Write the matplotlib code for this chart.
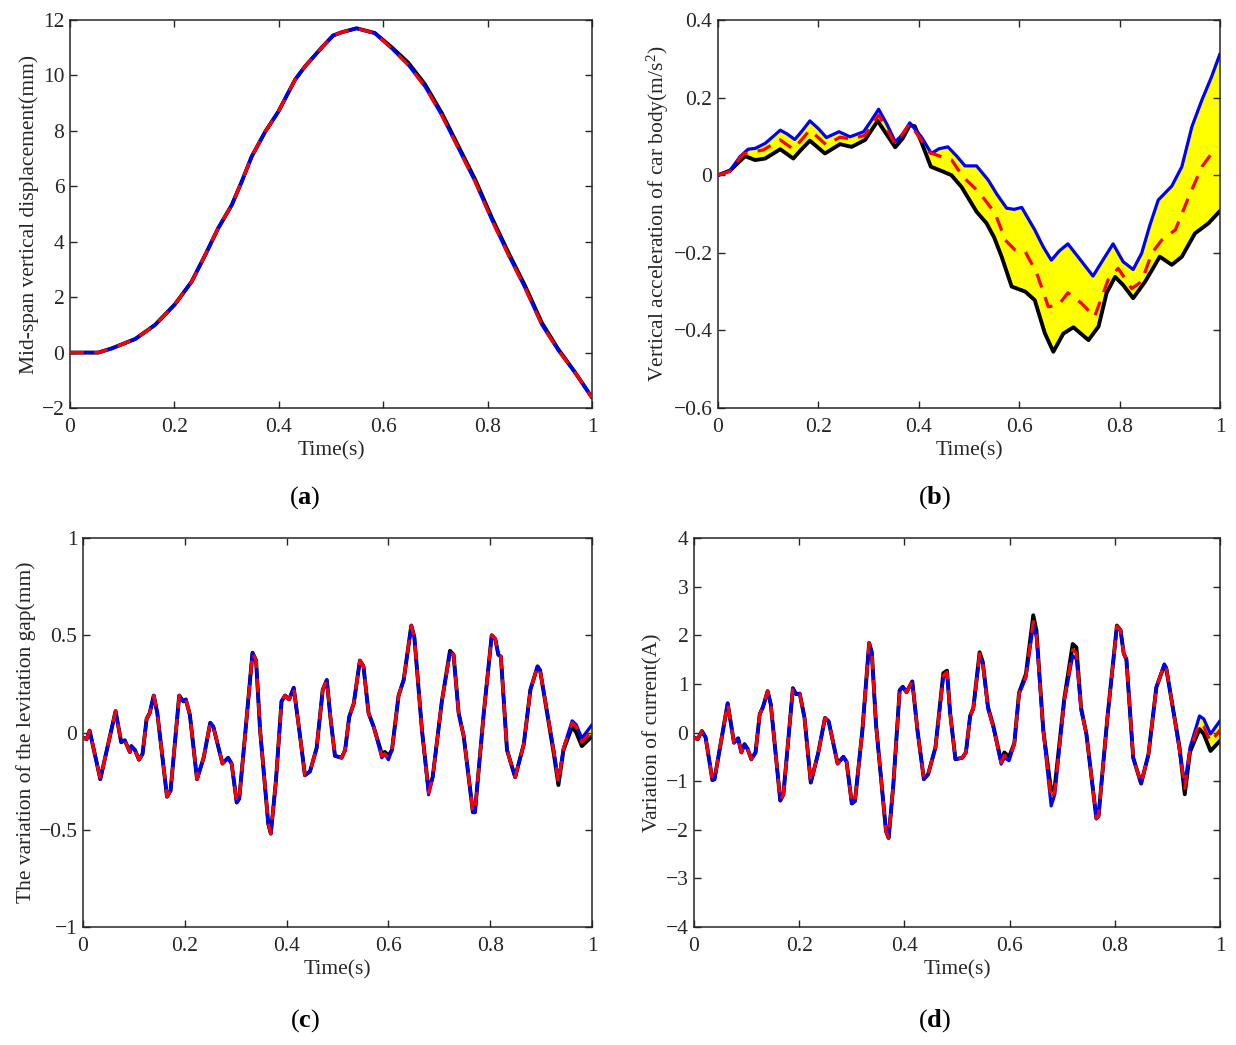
import numpy as np
import matplotlib
matplotlib.use("Agg")
import matplotlib.pyplot as plt

plt.rcParams['font.family'] = ['Liberation Serif', 'DejaVu Serif']
plt.rcParams['mathtext.fontset'] = 'custom'
plt.rcParams['mathtext.rm'] = 'Liberation Serif'
plt.rcParams['mathtext.bf'] = 'Liberation Serif:bold'
plt.rcParams['mathtext.it'] = 'Liberation Serif:italic'

# (a) mid-span vertical displacement
t_a = [0, 0.054, 0.080, 0.125, 0.163, 0.201, 0.233, 0.259, 0.284, 0.310, 0.329, 0.348,
       0.374, 0.399, 0.431, 0.450, 0.482, 0.504, 0.521, 0.549, 0.584, 0.616, 0.648, 0.680,
       0.712, 0.744, 0.776, 0.808, 0.840, 0.872, 0.904, 0.935, 0.967, 1.0]
disp_blue = [0, 0.0, 0.15, 0.49, 1.0, 1.74, 2.56, 3.52, 4.49, 5.33, 6.17, 7.07,
             7.97, 8.69, 9.84, 10.32, 11.0, 11.44, 11.56, 11.70, 11.52, 10.98, 10.38, 9.60,
             8.57, 7.37, 6.17, 4.79, 3.52, 2.32, 1.0, 0.09, -0.71, -1.62]
disp_black = [0, 0.0, 0.15, 0.49, 1.0, 1.74, 2.56, 3.52, 4.49, 5.33, 6.17, 7.07,
              7.97, 8.69, 9.84, 10.32, 11.0, 11.44, 11.56, 11.70, 11.53, 11.02, 10.46, 9.68,
              8.65, 7.45, 6.25, 4.87, 3.60, 2.40, 1.07, 0.13, -0.70, -1.62]
disp_red = disp_blue

# (b) vertical acceleration of car body
t_b_blue = [0, 0.024, 0.044, 0.060, 0.074, 0.094, 0.110, 0.124, 0.138, 0.153, 0.168, 0.183,
            0.200, 0.216, 0.241, 0.263, 0.290, 0.305, 0.320, 0.337, 0.353, 0.368, 0.382, 0.405,
            0.425, 0.440, 0.458, 0.475, 0.492, 0.515, 0.538, 0.556, 0.575, 0.590, 0.605, 0.631,
            0.648, 0.664, 0.680, 0.697, 0.717, 0.747, 0.771, 0.787, 0.807, 0.827, 0.844, 0.860,
            0.877, 0.904, 0.924, 0.944, 0.964, 0.983, 1.0]
acc_blue = [0, 0.012, 0.048, 0.067, 0.069, 0.082, 0.100, 0.116, 0.106, 0.092, 0.115, 0.140,
            0.120, 0.097, 0.112, 0.099, 0.112, 0.140, 0.170, 0.130, 0.086, 0.105, 0.135, 0.099,
            0.056, 0.068, 0.073, 0.050, 0.024, 0.024, -0.012, -0.050, -0.085, -0.088, -0.083, -0.141,
            -0.185, -0.219, -0.195, -0.177, -0.210, -0.260, -0.210, -0.177, -0.223, -0.243, -0.201, -0.130,
            -0.064, -0.028, 0.022, 0.125, 0.194, 0.253, 0.313]
t_b_black = [0, 0.024, 0.054, 0.074, 0.094, 0.124, 0.150, 0.165, 0.183, 0.213, 0.243, 0.266,
             0.293, 0.318, 0.336, 0.353, 0.368, 0.382, 0.392, 0.405, 0.424, 0.449, 0.465, 0.485,
             0.515, 0.535, 0.550, 0.565, 0.585, 0.612, 0.631, 0.651, 0.668, 0.688, 0.708, 0.738,
             0.758, 0.774, 0.791, 0.807, 0.827, 0.851, 0.880, 0.904, 0.924, 0.950, 0.977, 1.0]
acc_black = [0, 0.012, 0.049, 0.039, 0.043, 0.067, 0.043, 0.065, 0.089, 0.056, 0.080, 0.073,
             0.091, 0.140, 0.105, 0.072, 0.095, 0.129, 0.126, 0.086, 0.022, 0.009, 0.0, -0.030,
             -0.094, -0.124, -0.160, -0.210, -0.287, -0.300, -0.322, -0.407, -0.455, -0.408, -0.392, -0.425,
             -0.390, -0.304, -0.262, -0.283, -0.317, -0.274, -0.210, -0.231, -0.210, -0.150, -0.124, -0.092]
t_b_red = [0, 0.024, 0.050, 0.070, 0.090, 0.124, 0.150, 0.183, 0.216, 0.243, 0.266, 0.293,
           0.320, 0.353, 0.382, 0.405, 0.422, 0.449, 0.465, 0.488, 0.512, 0.532, 0.552, 0.572,
           0.592, 0.612, 0.635, 0.658, 0.678, 0.697, 0.724, 0.750, 0.777, 0.797, 0.824, 0.844,
           0.864, 0.884, 0.911, 0.938, 0.964, 0.993]
acc_red = [0, 0.010, 0.055, 0.060, 0.065, 0.091, 0.067, 0.116, 0.078, 0.098, 0.093, 0.103,
           0.155, 0.081, 0.133, 0.090, 0.058, 0.046, 0.040, -0.004, -0.034, -0.064, -0.098, -0.167,
           -0.193, -0.197, -0.253, -0.339, -0.335, -0.303, -0.330, -0.365, -0.270, -0.240, -0.292, -0.274,
           -0.201, -0.167, -0.141, -0.055, 0.022, 0.073]

# (c) variation of levitation gap
t_c = [0, 0.007, 0.013, 0.034, 0.064, 0.075, 0.082, 0.092, 0.095, 0.102, 0.110, 0.117,
       0.125, 0.131, 0.139, 0.146, 0.165, 0.172, 0.189, 0.197, 0.202, 0.210, 0.224, 0.237,
       0.250, 0.256, 0.274, 0.285, 0.292, 0.302, 0.307, 0.321, 0.333, 0.340, 0.348, 0.364,
       0.369, 0.379, 0.390, 0.397, 0.405, 0.414, 0.426, 0.436, 0.446, 0.459, 0.471, 0.479,
       0.486, 0.495, 0.508, 0.515, 0.523, 0.532, 0.544, 0.551, 0.561, 0.571, 0.587, 0.593,
       0.600, 0.607, 0.620, 0.630, 0.645, 0.651, 0.666, 0.679, 0.687, 0.705, 0.721, 0.728,
       0.738, 0.748, 0.766, 0.770, 0.787, 0.803, 0.810, 0.816, 0.821, 0.833, 0.849, 0.866,
       0.879, 0.893, 0.898, 0.925, 0.934, 0.944, 0.961, 0.969, 0.980, 1.0]
gap_blue = [-0.026, -0.035, 0.01, -0.24, 0.11, -0.05, -0.04, -0.10, -0.07, -0.09, -0.14, -0.11,
            0.07, 0.10, 0.19, 0.10, -0.33, -0.30, 0.19, 0.16, 0.17, 0.09, -0.24, -0.13,
            0.05, 0.03, -0.16, -0.13, -0.16, -0.36, -0.34, 0.06, 0.41, 0.37, 0.01, -0.47,
            -0.52, -0.25, 0.16, 0.19, 0.17, 0.23, -0.01, -0.22, -0.20, -0.08, 0.22, 0.27,
            0.08, -0.12, -0.13, -0.09, 0.08, 0.15, 0.37, 0.34, 0.10, 0.03, -0.13, -0.11,
            -0.14, -0.09, 0.19, 0.27, 0.55, 0.49, 0.01, -0.32, -0.23, 0.16, 0.41, 0.40,
            0.10, -0.02, -0.41, -0.41, 0.09, 0.50, 0.48, 0.40, 0.39, -0.09, -0.23, -0.06,
            0.22, 0.34, 0.32, -0.09, -0.25, -0.08, 0.06, 0.04, -0.03, 0.04]
gap_black = [-0.026, -0.035, 0.01, -0.24, 0.11, -0.05, -0.04, -0.10, -0.07, -0.09, -0.14, -0.11,
             0.07, 0.10, 0.19, 0.10, -0.33, -0.30, 0.19, 0.16, 0.17, 0.09, -0.24, -0.13,
             0.05, 0.03, -0.16, -0.13, -0.16, -0.36, -0.34, 0.06, 0.41, 0.37, 0.01, -0.47,
             -0.52, -0.25, 0.16, 0.19, 0.17, 0.23, -0.01, -0.22, -0.20, -0.08, 0.22, 0.27,
             0.08, -0.12, -0.13, -0.09, 0.08, 0.15, 0.37, 0.34, 0.10, 0.03, -0.11, -0.10,
             -0.12, -0.09, 0.19, 0.27, 0.55, 0.49, 0.01, -0.30, -0.23, 0.16, 0.42, 0.40,
             0.10, -0.02, -0.41, -0.41, 0.09, 0.50, 0.48, 0.40, 0.39, -0.09, -0.23, -0.06,
             0.22, 0.34, 0.32, -0.11, -0.27, -0.09, 0.03, 0.00, -0.07, -0.02]
gap_red = [-0.026, -0.035, 0.01, -0.24, 0.11, -0.05, -0.04, -0.10, -0.07, -0.09, -0.14, -0.11,
           0.07, 0.10, 0.19, 0.10, -0.33, -0.30, 0.19, 0.16, 0.17, 0.09, -0.24, -0.13,
           0.05, 0.03, -0.16, -0.13, -0.16, -0.36, -0.34, 0.06, 0.41, 0.37, 0.01, -0.47,
           -0.52, -0.25, 0.16, 0.19, 0.17, 0.23, -0.01, -0.22, -0.20, -0.08, 0.22, 0.27,
           0.08, -0.12, -0.13, -0.09, 0.08, 0.15, 0.37, 0.34, 0.10, 0.03, -0.12, -0.11,
           -0.13, -0.09, 0.19, 0.27, 0.55, 0.49, 0.01, -0.31, -0.23, 0.16, 0.41, 0.40,
           0.10, -0.02, -0.41, -0.41, 0.09, 0.50, 0.48, 0.40, 0.39, -0.09, -0.23, -0.06,
           0.22, 0.34, 0.32, -0.10, -0.26, -0.08, 0.05, 0.03, -0.05, 0.01]

# (d) variation of current
t_d = [0, 0.007, 0.015, 0.022, 0.035, 0.039, 0.064, 0.076, 0.084, 0.090, 0.096, 0.102,
       0.109, 0.117, 0.125, 0.131, 0.140, 0.146, 0.164, 0.170, 0.188, 0.194, 0.201, 0.210,
       0.222, 0.236, 0.249, 0.256, 0.273, 0.284, 0.290, 0.300, 0.306, 0.320, 0.333, 0.338,
       0.346, 0.365, 0.370, 0.379, 0.391, 0.397, 0.404, 0.415, 0.425, 0.437, 0.445, 0.459,
       0.474, 0.481, 0.487, 0.497, 0.510, 0.517, 0.525, 0.531, 0.543, 0.549, 0.559, 0.569,
       0.584, 0.590, 0.599, 0.609, 0.618, 0.631, 0.645, 0.651, 0.664, 0.679, 0.686, 0.704,
       0.720, 0.727, 0.736, 0.746, 0.765, 0.769, 0.786, 0.804, 0.811, 0.817, 0.822, 0.835,
       0.850, 0.864, 0.879, 0.894, 0.898, 0.923, 0.933, 0.943, 0.961, 0.969, 0.982, 1.0]
cur_blue = [-0.10, -0.14, 0.03, -0.10, -0.98, -0.96, 0.60, -0.21, -0.12, -0.41, -0.24, -0.34,
            -0.55, -0.41, 0.38, 0.52, 0.85, 0.58, -1.40, -1.27, 0.91, 0.79, 0.80, 0.31,
            -1.03, -0.43, 0.30, 0.23, -0.64, -0.50, -0.60, -1.46, -1.41, 0.03, 1.84, 1.65,
            0.17, -2.03, -2.17, -1.07, 0.87, 0.94, 0.83, 1.05, 0.03, -0.96, -0.86, -0.31,
            1.13, 1.20, 0.38, -0.55, -0.52, -0.41, 0.34, 0.48, 1.58, 1.41, 0.48, 0.10,
            -0.65, -0.52, -0.58, -0.24, 0.79, 1.13, 2.20, 1.96, 0.03, -1.51, -1.27, 0.65,
            1.58, 1.51, 0.45, -0.03, -1.77, -1.72, 0.31, 2.17, 2.10, 1.62, 1.51, -0.52,
            -1.05, -0.45, 0.93, 1.41, 1.34, -0.38, -1.07, -0.31, 0.34, 0.28, -0.03, 0.24]
cur_black = [-0.10, -0.14, 0.03, -0.10, -0.98, -0.96, 0.60, -0.21, -0.12, -0.41, -0.24, -0.34,
             -0.55, -0.41, 0.38, 0.52, 0.85, 0.58, -1.40, -1.27, 0.91, 0.79, 0.80, 0.31,
             -1.03, -0.43, 0.30, 0.23, -0.64, -0.50, -0.60, -1.46, -1.41, 0.03, 1.84, 1.65,
             0.17, -2.03, -2.17, -1.07, 0.87, 0.94, 0.83, 1.05, 0.03, -0.96, -0.86, -0.31,
             1.22, 1.27, 0.40, -0.55, -0.52, -0.41, 0.34, 0.50, 1.65, 1.45, 0.52, 0.14,
             -0.60, -0.41, -0.50, -0.22, 0.82, 1.20, 2.41, 2.10, 0.05, -1.20, -1.10, 0.70,
             1.82, 1.75, 0.50, -0.03, -1.77, -1.72, 0.31, 2.20, 2.10, 1.62, 1.51, -0.52,
             -1.05, -0.45, 0.93, 1.38, 1.30, -0.30, -1.27, -0.40, 0.07, -0.03, -0.38, -0.17]
cur_red = [-0.10, -0.14, 0.03, -0.10, -0.98, -0.96, 0.60, -0.21, -0.12, -0.41, -0.24, -0.34,
           -0.55, -0.41, 0.38, 0.52, 0.85, 0.58, -1.40, -1.27, 0.91, 0.79, 0.80, 0.31,
           -1.03, -0.43, 0.30, 0.23, -0.64, -0.50, -0.60, -1.46, -1.41, 0.03, 1.84, 1.65,
           0.17, -2.03, -2.17, -1.07, 0.87, 0.94, 0.83, 1.05, 0.03, -0.96, -0.86, -0.31,
           1.17, 1.24, 0.39, -0.55, -0.52, -0.41, 0.34, 0.49, 1.62, 1.43, 0.50, 0.12,
           -0.62, -0.47, -0.54, -0.23, 0.80, 1.16, 2.28, 2.03, 0.04, -1.38, -1.20, 0.67,
           1.70, 1.63, 0.47, -0.03, -1.77, -1.72, 0.31, 2.19, 2.10, 1.62, 1.51, -0.52,
           -1.05, -0.45, 0.93, 1.40, 1.32, -0.34, -1.15, -0.35, 0.20, 0.12, -0.20, 0.05]

W, H = 12.36, 10.45
fig = plt.figure(figsize=(W, H), dpi=100)

FS = 15.5
DARK = '#262626'


def make_axes(px_left, px_right, px_top, px_bottom):
    return fig.add_axes([px_left / 1236, 1 - px_bottom / 1045,
                         (px_right - px_left) / 1236, (px_bottom - px_top) / 1045])


def style(ax, ylim, yticks, ylabel):
    ax.set_xlim(0, 1)
    ax.set_ylim(*ylim)
    ax.set_xticks([0, 0.2, 0.4, 0.6, 0.8, 1])
    ax.set_xticklabels(['0', '0.2', '0.4', '0.6', '0.8', '1'])
    ax.set_yticks(yticks)
    ax.tick_params(direction='in', length=5, width=1.0, top=True, right=True,
                   labelsize=FS, colors=DARK)
    ax.tick_params(axis='x', pad=7)
    ax.tick_params(axis='y', pad=4)
    for sp in ax.spines.values():
        sp.set_linewidth(1.1)
        sp.set_color(DARK)
    ax.set_xlabel('Time(s)', fontsize=FS, color=DARK, labelpad=3)
    ax.set_ylabel(ylabel, fontsize=FS, color=DARK, labelpad=2)


def draw(ax, tk, black, tb, blue, tr, red, dash=(4.3, 3.3)):
    # yellow band between the black and the blue curve
    ax.fill(np.concatenate([tk, tb[::-1]]), np.concatenate([black, blue[::-1]]),
            color='#ffff00', linewidth=0, zorder=1)
    kw = dict(solid_joinstyle='round', solid_capstyle='round')
    ax.plot(tk, black, color='black', lw=2.8, zorder=2, **kw)
    ax.plot(tb, blue, color='#0000ff', lw=2.3, zorder=3, **kw)
    ax.plot(tr, red, color='#ff0000', lw=2.3, dashes=dash, zorder=4,
            dash_joinstyle='round')


A = np.asarray
ax_a = make_axes(70, 592, 20, 408)
draw(ax_a, A(t_a), A(disp_black), A(t_a), A(disp_blue), A(t_a), A(disp_red))
style(ax_a, (-2, 12), [-2, 0, 2, 4, 6, 8, 10, 12], 'Mid-span vertical displacement(mm)')

ax_b = make_axes(718, 1220, 20, 408)
draw(ax_b, A(t_b_black), A(acc_black), A(t_b_blue), A(acc_blue), A(t_b_red), A(acc_red),
     dash=(4.5, 3.2))
style(ax_b, (-0.6, 0.4), [-0.6, -0.4, -0.2, 0, 0.2, 0.4],
      'Vertical acceleration of car body(m/s$^2$)')
ax_b.set_yticklabels(['\u22120.6', '\u22120.4', '\u22120.2', '0', '0.2', '0.4'])

ax_c = make_axes(83, 592, 538, 927)
draw(ax_c, A(t_c), A(gap_black), A(t_c), A(gap_blue), A(t_c), A(gap_red))
style(ax_c, (-1, 1), [-1, -0.5, 0, 0.5, 1], 'The variation of the levitation gap(mm)')
ax_c.set_yticklabels(['\u22121', '\u22120.5', '0', '0.5', '1'])

ax_d = make_axes(694, 1220, 538, 927)
draw(ax_d, A(t_d), A(cur_black), A(t_d), A(cur_blue), A(t_d), A(cur_red))
style(ax_d, (-4, 4), [-4, -3, -2, -1, 0, 1, 2, 3, 4], 'Variation of current(A)')

for x, y, s in [(305, 498, 'a'), (935, 498, 'b'), (305, 1021, 'c'), (935, 1021, 'd')]:
    fig.text(x / 1236, 1 - y / 1045, '(' + r'$\mathbf{' + s + '}$' + ')',
             fontsize=19, ha='center', va='center', color='black')

fig.savefig('out.png', dpi=100)
